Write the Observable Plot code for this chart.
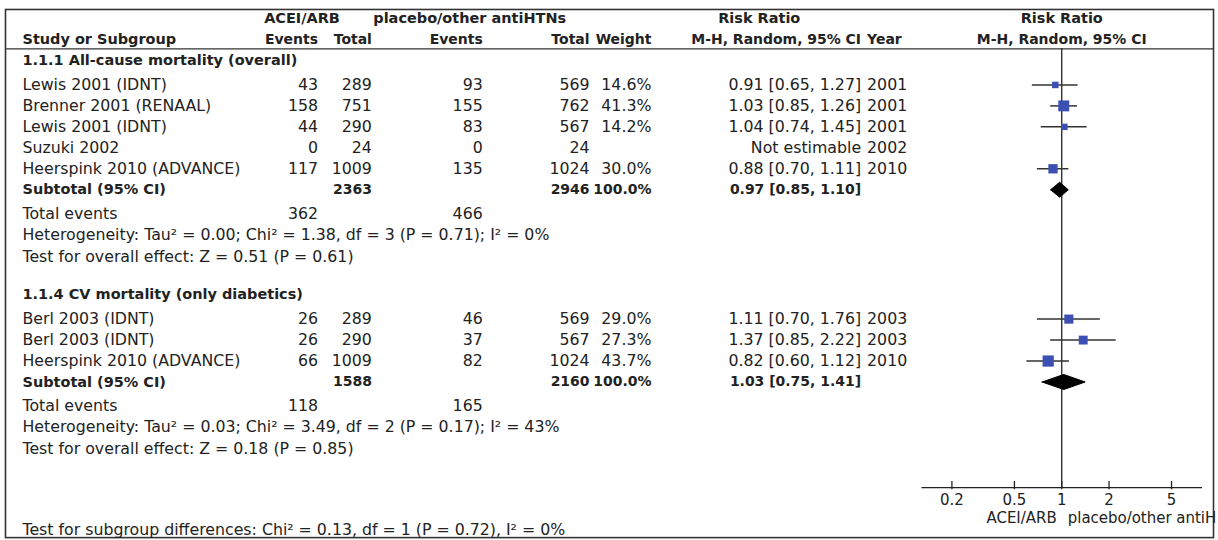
<!DOCTYPE html>
<html>
<head>
<meta charset="utf-8">
<script src="https://cdn.jsdelivr.net/npm/d3@7"></script>
<script src="https://cdn.jsdelivr.net/npm/@observablehq/plot@0.6"></script>
<style>
  body { margin: 0; background: #fff; }
  #wrap { width: 1216px; overflow: hidden; }
</style>
</head>
<body>
<div id="wrap"></div>
<script>
// ---------- data ----------
const subgroupTitles = ["1.1.1 All-cause mortality (overall)", "1.1.4 CV mortality (only diabetics)"];
const studyNames = ["Lewis 2001 (IDNT)", "Brenner 2001 (RENAAL)", "Lewis 2001 (IDNT)", "Suzuki 2002", "Heerspink 2010 (ADVANCE)",
                    "Berl 2003 (IDNT)", "Berl 2003 (IDNT)", "Heerspink 2010 (ADVANCE)"];
const studyGroup = [0, 0, 0, 0, 0, 1, 1, 1];
const eventsA = [43, 158, 44, 0, 117, 26, 26, 66];
const totalA  = [289, 751, 290, 24, 1009, 289, 290, 1009];
const eventsB = [93, 155, 83, 0, 135, 46, 37, 82];
const totalB  = [569, 762, 567, 24, 1024, 569, 567, 1024];
const weights = [14.6, 41.3, 14.2, null, 30.0, 29.0, 27.3, 43.7];
const rr      = [0.91, 1.03, 1.04, null, 0.88, 1.11, 1.37, 0.82];
const ciLow   = [0.65, 0.85, 0.74, null, 0.70, 0.70, 0.85, 0.60];
const ciHigh  = [1.27, 1.26, 1.45, null, 1.11, 1.76, 2.22, 1.12];
const years   = [2001, 2001, 2001, 2002, 2010, 2003, 2003, 2010];

const subTotalA = [2363, 1588];
const subTotalB = [2946, 2160];
const subRR   = [0.97, 1.03];
const subLow  = [0.85, 0.75];
const subHigh = [1.10, 1.41];
const totalEventsA = [362, 118];
const totalEventsB = [466, 165];
const heterogeneity = [
  "Heterogeneity: Tau² = 0.00; Chi² = 1.38, df = 3 (P = 0.71); I² = 0%",
  "Heterogeneity: Tau² = 0.03; Chi² = 3.49, df = 2 (P = 0.17); I² = 43%"
];
const overallEffect = [
  "Test for overall effect: Z = 0.51 (P = 0.61)",
  "Test for overall effect: Z = 0.18 (P = 0.85)"
];
const subgroupTest = "Test for subgroup differences: Chi² = 0.13, df = 1 (P = 0.72), I² = 0%";
const xTicks = [0.2, 0.5, 1, 2, 5];
const groupHeaders = ["ACEI/ARB", "placebo/other antiHTNs", "Risk Ratio"];
const columnHeaders = ["Study or Subgroup", "Events", "Total", "Events", "Total", "Weight", "M-H, Random, 95% CI", "Year"];
const plotHeaders = ["Risk Ratio", "M-H, Random, 95% CI"];
const favours = ["ACEI/ARB", "placebo/other antiHTNs"];

// ---------- layout ----------
const W = 1218, H = 540, ML = 923, MR = 14, RIGHT_EDGE = 1215, LEFT_EDGE = 5;
const FONT = "DejaVu Sans", FS = 15.8, FSB = 14.5, FSBN = 14, INK = "#222";
// column anchors (px) for the table part
const COLS = [[22, "start"], [318, "end"], [372, "end"], [483, "end"], [590, "end"], [652, "end"], [862, "end"], [868, "start"]];
const groupHeaderX = [302, 470, 760];

// row positions in "row units"
const studyY = [], headerY = [], subtotalY = [], totEvY = [], hetY = [], effY = [];
let pos = 0;
subgroupTitles.forEach((t, g) => {
  headerY.push(pos);
  const idx = studyGroup.map((v, i) => v === g ? i : -1).filter(i => i >= 0);
  idx.forEach((i, k) => studyY[i] = pos + 1.17 + k);
  const s = pos + 1.17 + idx.length;
  subtotalY.push(s);
  totEvY.push(s + 1.15);
  hetY.push(s + 2.15);
  effY.push(s + 3.2);
  pos = s + 3.2 + 1.8;
});
const headRow1 = -2, headRow2 = -1, headLine = -0.55;
const axisRow = 20.38, tickLabRow = 21.0, favRow = 21.86, subTestRow = 22.4;

const fmt2 = v => v.toFixed(2);
const studies = studyNames.map((name, i) => ({
  name, y: studyY[i],
  cells: [name, String(eventsA[i]), String(totalA[i]), String(eventsB[i]), String(totalB[i]),
          weights[i] == null ? "" : weights[i].toFixed(1) + "%",
          rr[i] == null ? "Not estimable" : `${fmt2(rr[i])} [${fmt2(ciLow[i])}, ${fmt2(ciHigh[i])}]`,
          String(years[i])],
  rr: rr[i], lo: ciLow[i], hi: ciHigh[i], w: weights[i]
}));
const subtotals = subgroupTitles.map((t, g) => ({
  y: subtotalY[g],
  cells: ["Subtotal (95% CI)", "", String(subTotalA[g]), "", String(subTotalB[g]), "100.0%",
          `${fmt2(subRR[g])} [${fmt2(subLow[g])}, ${fmt2(subHigh[g])}]`, ""],
  rr: subRR[g], lo: subLow[g], hi: subHigh[g], g
}));
const totEvents = subgroupTitles.map((t, g) => ({
  y: totEvY[g], cells: ["Total events", String(totalEventsA[g]), "", String(totalEventsB[g]), "", "", "", ""]
}));

// text helpers
const colText = (rows, c, bold, size) => Plot.text(rows, {
  frameAnchor: "left", dx: COLS[c][0] - ML, y: "y", text: d => d.cells[c],
  textAnchor: COLS[c][1], fontWeight: bold ? "bold" : "normal", fill: INK,
  fontSize: size ?? (bold ? FSB : FS)
});
const leftText = (data, bold) => Plot.text(data, {
  frameAnchor: "left", dx: COLS[0][0] - ML, y: "y", text: "t", textAnchor: "start",
  fontWeight: bold ? "bold" : "normal", fill: INK, fontSize: bold ? FSB : FS
});

const marks = [];
// border + header rule
marks.push(Plot.frame({stroke: "#333", strokeWidth: 1.6, insetLeft: -(ML - LEFT_EDGE), insetRight: -(RIGHT_EDGE - (W - MR))}));
marks.push(Plot.ruleY([headLine], {stroke: "#333", strokeWidth: 1.3, insetLeft: -(ML - LEFT_EDGE), insetRight: -(RIGHT_EDGE - (W - MR))}));

// headers
groupHeaders.forEach((h, i) => marks.push(Plot.text([h], {
  frameAnchor: "left", dx: groupHeaderX[i] - ML, y: () => headRow1, text: d => d,
  textAnchor: "middle", fontWeight: "bold", fill: INK, fontSize: FSB })));
const headerRow = [{y: headRow2, cells: columnHeaders}];
columnHeaders.forEach((h, c) => marks.push(colText(headerRow, c, true, c === 0 ? FSB : FSBN)));
marks.push(Plot.text([plotHeaders[0]], {x: () => 1, y: () => headRow1, text: d => d, fontWeight: "bold", fill: INK, fontSize: FSB}));
marks.push(Plot.text([plotHeaders[1]], {x: () => 1, y: () => headRow2, text: d => d, fontWeight: "bold", fill: INK, fontSize: FSBN}));

// table body
marks.push(leftText(subgroupTitles.map((t, g) => ({t, y: headerY[g]})), true));
for (let c = 0; c < 8; c++) marks.push(colText(studies, c, false));
for (let c = 0; c < 8; c++) marks.push(colText(subtotals, c, true, c === 0 ? FSB : FSBN));
for (let c = 0; c < 8; c++) marks.push(colText(totEvents, c, false));
marks.push(leftText(heterogeneity.map((t, g) => ({t, y: hetY[g]})), false));
marks.push(leftText(overallEffect.map((t, g) => ({t, y: effY[g]})), false));
marks.push(leftText([{t: subgroupTest, y: subTestRow}], false));

// forest plot
const est = studies.filter(d => d.rr != null);
marks.push(Plot.ruleX([1], {y1: headLine, y2: axisRow, stroke: "#222", strokeWidth: 1.3}));
marks.push(Plot.ruleY(est, {y: "y", x1: "lo", x2: "hi", stroke: "#333", strokeWidth: 1.5}));
marks.push(Plot.dot(est, {x: "rr", y: "y", r: "w", symbol: "square", fill: "#3b50b2", stroke: "none"}));
const half = 0.36;
const diamonds = subtotals.flatMap(d => [
  {x: d.lo, y: d.y, g: d.g}, {x: d.rr, y: d.y - half, g: d.g},
  {x: d.hi, y: d.y, g: d.g}, {x: d.rr, y: d.y + half, g: d.g}, {x: d.lo, y: d.y, g: d.g}]);
marks.push(Plot.line(diamonds, {x: "x", y: "y", z: "g", fill: "#000", stroke: "#000", strokeWidth: 1, curve: "linear"}));
// axis
marks.push(Plot.ruleY([axisRow], {stroke: "#222", strokeWidth: 1.3}));
marks.push(Plot.ruleX(xTicks, {x: d => d, y1: axisRow - 0.3, y2: axisRow + 0.1, stroke: "#222", strokeWidth: 1.3}));
marks.push(Plot.text(xTicks, {x: d => d, y: () => tickLabRow, text: d => String(d), fill: INK, fontSize: 15}));
marks.push(Plot.text([favours[0]], {x: () => 1, y: () => favRow, text: d => d, textAnchor: "end", dx: -5, fill: INK, fontSize: 15}));
marks.push(Plot.text([favours[1]], {x: () => 1, y: () => favRow, text: d => d, textAnchor: "start", dx: 6, fill: INK, fontSize: 15}));

const chart = Plot.plot({
  width: W, height: H,
  marginLeft: ML, marginRight: MR, marginTop: 9, marginBottom: 2,
  style: {fontFamily: FONT, fontSize: FS + "px", background: "#fff", color: INK},
  x: {type: "log", domain: [0.129, 7.87], axis: null},
  y: {type: "linear", domain: [-2, 22.5], range: [18, 18 + 24.5 * 21], axis: null},
  r: {type: "sqrt", domain: [0, 100], range: [0, 9.6]},
  marks
});
document.getElementById("wrap").appendChild(chart);
</script>
</body>
</html>
